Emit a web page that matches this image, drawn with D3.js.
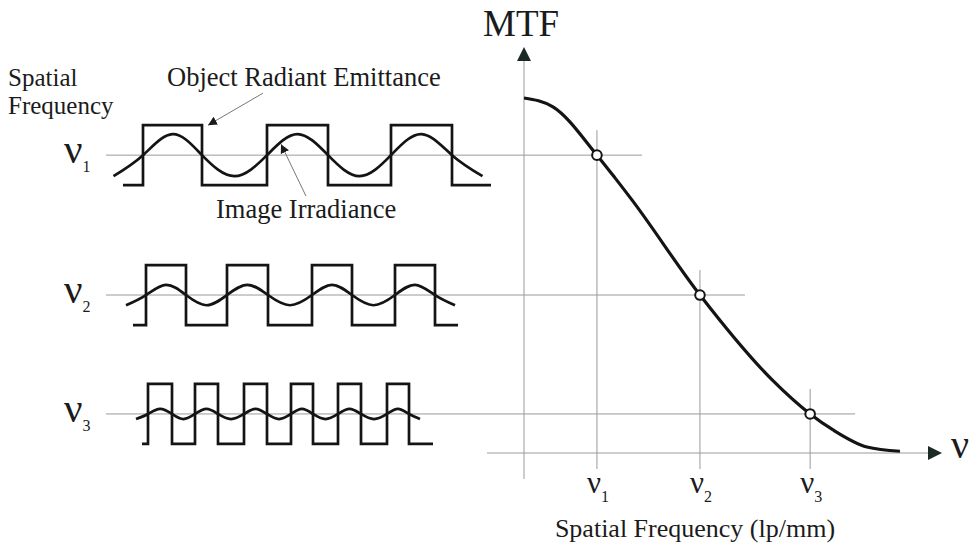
<!DOCTYPE html>
<html>
<head>
<meta charset="utf-8">
<script src="https://cdn.jsdelivr.net/npm/d3@7"></script>
<style>
body { margin: 0; background: #fff; }
svg text { font-family: "Liberation Serif", "Times New Roman", serif; fill: #1b1b1b; }
</style>
</head>
<body>
<div id="chart"></div>
<script>
// MTF curve (frequency as % of cutoff, MTF from 0 to 1)
var curveFreq = [0, 7.7, 19.4, 24.2, 28.7, 46.8, 66, 76.1, 82.2, 91.2, 100];
var curveMtf  = [1.0, 0.975, 0.839, 0.775, 0.713, 0.445, 0.206, 0.11, 0.065, 0.017, 0.005];

// the three sample frequencies
var nuSubs = ["1", "2", "3"];
var nuFreq = [19.4, 46.8, 76.1];
var nuMtf  = [0.839, 0.445, 0.11];

// object bars (square wave edges) for each frequency, position in mm
var rowEdges = [
  [4.3, 10.2, 16.7, 22.8, 29.1, 35.2],
  [4.6, 8.6, 12.7, 16.8, 21.2, 25.2, 29.5, 33.5],
  [4.8, 7.2, 9.5, 11.8, 14.4, 16.7, 19.1, 21.3, 23.8, 26.1, 28.7, 30.9]
];
var squareStart = [2.3, 3.3, 4.2];
var squareEnd   = [39.1, 35.8, 33.3];
// image modulation relative to object modulation
var imageMod = [0.70, 0.34, 0.17];

var w = 974, h = 549;
var svg = d3.select("#chart").append("svg")
  .attr("width", w)
  .attr("height", h)
  .style("background", "#fff");

var defs = svg.append("defs");
defs.append("marker")
  .attr("id", "tip")
  .attr("viewBox", "0 0 10 10")
  .attr("refX", 10).attr("refY", 5)
  .attr("markerWidth", 9).attr("markerHeight", 9)
  .attr("markerUnits", "userSpaceOnUse")
  .attr("orient", "auto")
  .append("path").attr("d", "M0,0L10,5L0,10Z").attr("fill", "#1b1b1b");

var x = d3.scaleLinear().domain([0, 100]).range([524, 900]);
var y = d3.scaleLinear().domain([0, 1]).range([453, 98]);
var xw = d3.scaleLinear().domain([0, 40]).range([100, 500]);
var amp = d3.scaleLinear().domain([-1, 1]).range([30, -30]);

var grey = "#9a9a9a";

// guide lines
nuFreq.forEach(function(f, i) {
  svg.append("line")
    .attr("x1", 106).attr("x2", x(f) + 45)
    .attr("y1", y(nuMtf[i])).attr("y2", y(nuMtf[i]))
    .attr("stroke", grey).attr("stroke-width", 1);
  svg.append("line")
    .attr("x1", x(f)).attr("x2", x(f))
    .attr("y1", y(nuMtf[i]) - 25).attr("y2", y(0) + 16)
    .attr("stroke", grey).attr("stroke-width", 1);
});

// axes
svg.append("line")
  .attr("x1", x(0)).attr("x2", x(0))
  .attr("y1", y(0) + 26).attr("y2", 61)
  .attr("stroke", grey).attr("stroke-width", 1);
svg.append("path")
  .attr("d", "M" + (x(0) - 7) + ",61L" + x(0) + ",47L" + (x(0) + 7) + ",61Z")
  .attr("fill", "#1b2a22");
svg.append("line")
  .attr("x1", x(0) - 37).attr("x2", 928)
  .attr("y1", y(0)).attr("y2", y(0))
  .attr("stroke", grey).attr("stroke-width", 1);
svg.append("path")
  .attr("d", "M928," + (y(0) - 7) + "L942," + y(0) + "L928," + (y(0) + 7) + "Z")
  .attr("fill", "#1b2a22");

// MTF curve
var pts = curveFreq.map(function(f, i) { return [f, curveMtf[i]]; });
svg.append("path")
  .attr("d", d3.line().x(function(d) { return x(d[0]); }).y(function(d) { return y(d[1]); })
    .curve(d3.curveMonotoneX)(pts))
  .attr("fill", "none").attr("stroke", "#141414").attr("stroke-width", 3.2);

svg.selectAll("circle.pt").data(nuFreq).enter().append("circle")
  .attr("class", "pt")
  .attr("cx", function(d) { return x(d); })
  .attr("cy", function(d, i) { return y(nuMtf[i]); })
  .attr("r", 4.8)
  .attr("fill", "#fff").attr("stroke", "#141414").attr("stroke-width", 2);

// waves
rowEdges.forEach(function(edges, r) {
  var cy = y(nuMtf[r]);
  // object: square wave
  var sq = [[squareStart[r], -1]];
  edges.forEach(function(e, i) { sq.push([e, i % 2 === 0 ? 1 : -1]); });
  sq.push([squareEnd[r], -1]);
  svg.append("path")
    .attr("d", d3.line().x(function(d) { return xw(d[0]); }).y(function(d) { return cy + amp(d[1]) ; })
      .curve(d3.curveStepAfter)(sq))
    .attr("fill", "none").attr("stroke", "#141414").attr("stroke-width", 2.7);

  // image: sinusoid through crossings at the edges and extremes between them
  var m = imageMod[r];
  var sn = [[edges[0] - (edges[1] - edges[0]) / 2, -m]];
  edges.forEach(function(e, i) {
    sn.push([e, 0]);
    var next = i < edges.length - 1 ? edges[i + 1] : e + (e - edges[i - 1]);
    sn.push([(e + next) / 2, i % 2 === 0 ? m : -m]);
  });
  svg.append("path")
    .attr("d", d3.line().x(function(d) { return xw(d[0]); }).y(function(d) { return cy + amp(d[1]); })
      .curve(d3.curveNatural)(sn))
    .attr("fill", "none").attr("stroke", "#141414").attr("stroke-width", 2.7);

  // ν label on the left
  var t = svg.append("text").attr("x", 64).attr("y", cy + 8).style("font-size", "41px").text("ν");
  t.append("tspan").attr("dy", 9).style("font-size", "16px").text(nuSubs[r]);
});

// ν tick labels under the x axis
nuFreq.forEach(function(f, i) {
  var t = svg.append("text").attr("x", x(f) - 10).attr("y", y(0) + 40).style("font-size", "31px").text("ν");
  t.append("tspan").attr("dy", 9).style("font-size", "16px").text(nuSubs[i]);
});

// titles
svg.append("text").attr("x", 483).attr("y", 36).style("font-size", "37px").text("MTF");
svg.append("text").attr("x", 951).attr("y", y(0) + 5).style("font-size", "40px").text("ν");
svg.append("text").attr("x", 695).attr("y", 537).attr("text-anchor", "middle")
  .style("font-size", "26px").text("Spatial Frequency (lp/mm)");
svg.append("text").attr("x", 8).attr("y", 85.5).style("font-size", "25px").text("Spatial");
svg.append("text").attr("x", 8).attr("y", 113.5).style("font-size", "25px").text("Frequency");
svg.append("text").attr("x", 167).attr("y", 86).style("font-size", "26.5px").text("Object Radiant Emittance");
svg.append("text").attr("x", 216).attr("y", 218).style("font-size", "26.5px").text("Image Irradiance");

// pointers
var c1 = y(nuMtf[0]);
svg.append("line")
  .attr("x1", xw(16.3)).attr("y1", c1 - 62)
  .attr("x2", xw(10.8)).attr("y2", c1 - 30)
  .attr("stroke", "#777").attr("stroke-width", 1)
  .attr("marker-end", "url(#tip)");
svg.append("line")
  .attr("x1", xw(20.6)).attr("y1", c1 + 41)
  .attr("x2", xw(18.1)).attr("y2", c1 - 11)
  .attr("stroke", "#777").attr("stroke-width", 1)
  .attr("marker-end", "url(#tip)");
</script>
</body>
</html>
